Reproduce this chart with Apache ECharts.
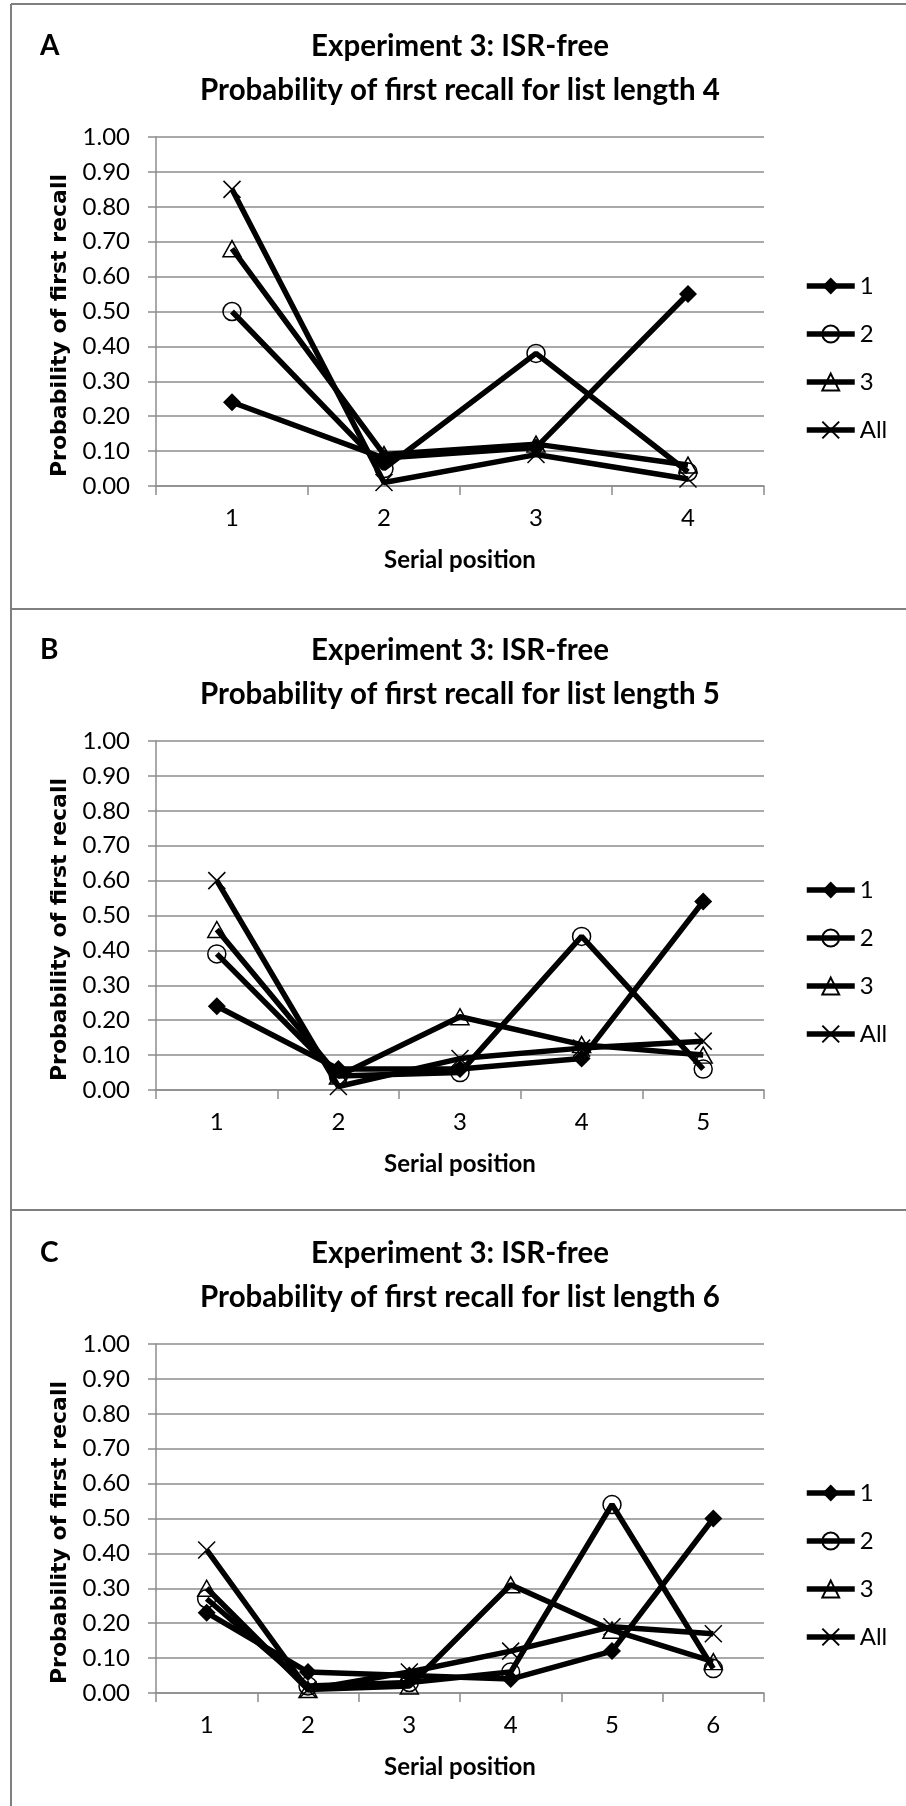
<!DOCTYPE html>
<html>
<head>
<meta charset="utf-8">
<script src="https://cdn.jsdelivr.net/npm/echarts@6/dist/echarts.min.js"></script>
<style>
  html, body { margin: 0; padding: 0; background: #fff; }
  #chart { width: 906px; height: 1806px; }
</style>
</head>
<body>
<div id="chart"></div>
<script>
  // serial positions per list length
  var positions4 = ['1', '2', '3', '4'];
  var positions5 = ['1', '2', '3', '4', '5'];
  var positions6 = ['1', '2', '3', '4', '5', '6'];

  // list length 4
  var len4_s1 = [0.24, 0.08, 0.11, 0.55];
  var len4_s2 = [0.50, 0.05, 0.38, 0.04];
  var len4_s3 = [0.68, 0.09, 0.12, 0.06];
  var len4_all = [0.85, 0.01, 0.09, 0.02];

  // list length 5
  var len5_s1 = [0.24, 0.06, 0.06, 0.09, 0.54];
  var len5_s2 = [0.39, 0.04, 0.05, 0.44, 0.06];
  var len5_s3 = [0.46, 0.04, 0.21, 0.13, 0.10];
  var len5_all = [0.60, 0.01, 0.09, 0.12, 0.14];

  // list length 6
  var len6_s1 = [0.23, 0.06, 0.05, 0.04, 0.12, 0.50];
  var len6_s2 = [0.27, 0.02, 0.03, 0.06, 0.54, 0.07];
  var len6_s3 = [0.30, 0.01, 0.02, 0.31, 0.18, 0.09];
  var len6_all = [0.41, 0.01, 0.06, 0.12, 0.19, 0.17];

  var seriesNames = ['1', '2', '3', 'All'];
  var yTicks = [0, 0.1, 0.2, 0.3, 0.4, 0.5, 0.6, 0.7, 0.8, 0.9, 1.0];

  var panels = [
    { letter: 'A', len: 4, cats: positions4, data: [len4_s1, len4_s2, len4_s3, len4_all], off: 0 },
    { letter: 'B', len: 5, cats: positions5, data: [len5_s1, len5_s2, len5_s3, len5_all], off: 604 },
    { letter: 'C', len: 6, cats: positions6, data: [len6_s1, len6_s2, len6_s3, len6_all], off: 1207 }
  ];

  var FONT = 'Lato';
  var GRID_GRAY = '#8c8c8c';
  var crossPath = 'path://M0,0L10,10M10,0L0,10';

  // marker style per series: filled diamond, open circle, open triangle, cross
  function markerFor(i) {
    if (i === 0) return { symbol: 'diamond', symbolSize: 18, itemStyle: { color: '#000', borderColor: '#000', borderWidth: 0 } };
    if (i === 1) return { symbol: 'circle', symbolSize: 18, itemStyle: { color: 'transparent', borderColor: '#000', borderWidth: 1.5 } };
    if (i === 2) return { symbol: 'triangle', symbolSize: [18, 16], itemStyle: { color: 'transparent', borderColor: '#000', borderWidth: 1.5 } };
    return { symbol: crossPath, symbolSize: 17, itemStyle: { color: 'transparent', borderColor: '#000', borderWidth: 1.5 } };
  }

  var chart = echarts.init(document.getElementById('chart'));

  var titles = [], grids = [], xAxes = [], yAxes = [], legends = [], series = [], graphics = [];

  panels.forEach(function (p, k) {
    titles.push({
      text: p.letter,
      left: 40, top: 24 + p.off, padding: 0,
      textStyle: { fontFamily: FONT, fontSize: 28, fontWeight: 'bold', color: '#000', lineHeight: 44 }
    });
    titles.push({
      text: 'Experiment 3: ISR-free\nProbability of first recall for list length ' + p.len,
      left: 460, top: 24 + p.off, padding: 0, textAlign: 'center',
      textStyle: { fontFamily: FONT, fontSize: 29.5, fontWeight: 'bold', color: '#000', lineHeight: 44 }
    });
    grids.push({ left: 156, top: 137 + p.off, width: 608, height: 349, containLabel: false, outerBoundsMode: 'none' });
    xAxes.push({
      type: 'category', gridIndex: k, data: p.cats, boundaryGap: true,
      name: 'Serial position', nameLocation: 'middle', nameGap: 62,
      nameTextStyle: { fontFamily: FONT, fontSize: 24, fontWeight: 'bold', color: '#000' },
      axisLine: { show: true, lineStyle: { color: GRID_GRAY, width: 1.5 } },
      axisTick: { show: true, alignWithLabel: false, length: 9, lineStyle: { color: GRID_GRAY, width: 1.5 } },
      axisLabel: { margin: 20, fontFamily: FONT, fontSize: 24, color: '#000' },
      splitLine: { show: false }
    });
    yAxes.push({
      type: 'value', gridIndex: k, min: yTicks[0], max: yTicks[yTicks.length - 1], interval: 0.1,
      name: 'Probability of first recall', nameLocation: 'middle', nameGap: 80,
      nameTextStyle: { fontFamily: 'DejaVu Sans', fontSize: 22, fontWeight: 'bold', color: '#000', padding: [0, 28, 0, 0] },
      axisLine: { show: true, lineStyle: { color: GRID_GRAY, width: 1.5 } },
      axisTick: { show: true, inside: false, length: 8, lineStyle: { color: GRID_GRAY, width: 1.5 } },
      axisLabel: { margin: 26, fontFamily: FONT, fontSize: 24, color: '#000', formatter: function (v) { return v.toFixed(2); } },
      splitLine: { show: true, lineStyle: { color: GRID_GRAY, width: 1.5 } }
    });
    legends.push({
      orient: 'vertical', left: 804, top: 272 + p.off, padding: 0,
      itemWidth: 48, itemHeight: 21, itemGap: 20,
      data: seriesNames,
      lineStyle: { width: 5.5, color: '#000' },
      textStyle: { fontFamily: FONT, fontSize: 24, color: '#000', lineHeight: 28 }
    });
    p.data.forEach(function (vals, i) {
      var m = markerFor(i);
      series.push({
        name: seriesNames[i], type: 'line', xAxisIndex: k, yAxisIndex: k,
        data: vals, symbol: m.symbol, symbolSize: m.symbolSize, showAllSymbol: true,
        itemStyle: m.itemStyle,
        lineStyle: { color: '#000', width: 5.5 },
        emphasis: { disabled: true },
        animation: false
      });
    });
  });

  // panel frame lines
  var GX = 11;
  [4, 609, 1210].forEach(function (y) {
    graphics.push({ type: 'line', shape: { x1: GX, y1: y, x2: 906, y2: y }, style: { stroke: '#7f7f7f', lineWidth: 2 } });
  });
  graphics.push({ type: 'line', shape: { x1: GX, y1: 4, x2: GX, y2: 1806 }, style: { stroke: '#7f7f7f', lineWidth: 2 } });

  chart.setOption({
    backgroundColor: '#fff',
    animation: false,
    title: titles,
    grid: grids,
    xAxis: xAxes,
    yAxis: yAxes,
    legend: legends,
    series: series,
    graphic: graphics
  });
</script>
</body>
</html>
